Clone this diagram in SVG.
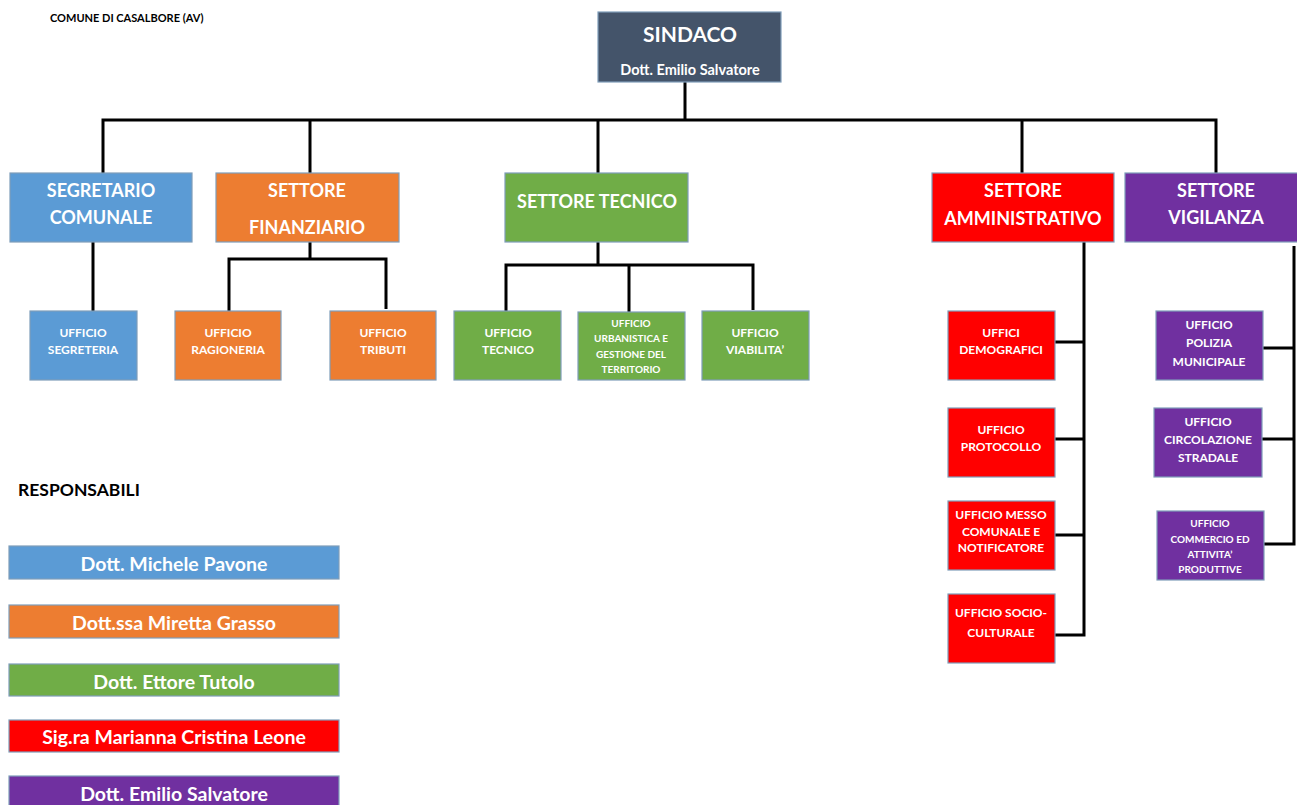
<svg xmlns="http://www.w3.org/2000/svg" width="1297" height="805" viewBox="0 0 1297 805">
<style>
text{font-family:Lato,"Open Sans","Liberation Sans",sans-serif;font-weight:bold;fill:#fff;text-anchor:middle}
.box{stroke:#7F9DB9;stroke-width:1.2}
.blue{fill:#5B9BD5}.orange{fill:#ED7D31}.green{fill:#70AD47}.red{fill:#FF0000}.purple{fill:#7030A0}.slate{fill:#44546A}
.h{font-size:18px}.u{font-size:12px}.s{font-size:10px}.r{font-size:19.5px}
.lines path{fill:none;stroke:#000;stroke-width:3}
</style>
<rect width="1297" height="805" fill="#fff"/>
<text x="50" y="22" style="font-size:11px;fill:#000;text-anchor:start">COMUNE DI CASALBORE (AV)</text>

<g class="lines">
<path d="M685 82V120M103 173V120H1216V173M310 120V173M598 120V173M1022 120V173"/>
<path d="M93 242V311"/>
<path d="M310 242V259M229 311V259H386V309"/>
<path d="M598 242V265M506 311V265H753V310M629 265V312"/>
<path d="M1084 242V635H1055M1055 342H1084M1055 439H1084M1055 535H1084"/>
<path d="M1294 246V544H1264M1263 348H1294M1262 439H1294"/>
</g>

<g id="sindaco"><rect class="box slate" x="598" y="12" width="183" height="70"/><text x="690" y="42" style="font-size:21px">SINDACO</text><text x="690" y="75" style="font-size:14.5px">Dott. Emilio Salvatore</text></g>

<g id="segretario"><rect class="box blue" x="10" y="173" width="182" height="69"/><text class="h" x="101" y="197">SEGRETARIO</text><text class="h" x="101" y="224">COMUNALE</text></g>
<g id="finanziario"><rect class="box orange" x="216" y="173" width="183" height="69"/><text class="h" x="307" y="197">SETTORE</text><text class="h" x="307" y="234">FINANZIARIO</text></g>
<g id="tecnico"><rect class="box green" x="505" y="173" width="183" height="69"/><text class="h" x="597" y="208">SETTORE TECNICO</text></g>
<g id="amministrativo"><rect class="box red" x="932" y="173" width="182" height="69"/><text class="h" x="1023" y="197">SETTORE</text><text class="h" x="1023" y="225">AMMINISTRATIVO</text></g>
<g id="vigilanza"><rect class="box purple" x="1125" y="173" width="180" height="69"/><text class="h" x="1216" y="197">SETTORE</text><text class="h" x="1216" y="224">VIGILANZA</text></g>

<g id="segreteria"><rect class="box blue" x="30" y="311" width="107" height="69"/><text class="u" x="83" y="337">UFFICIO</text><text class="u" x="83" y="354">SEGRETERIA</text></g>
<g id="ragioneria"><rect class="box orange" x="175" y="311" width="106" height="69"/><text class="u" x="228" y="337">UFFICIO</text><text class="u" x="228" y="354">RAGIONERIA</text></g>
<g id="tributi"><rect class="box orange" x="330" y="311" width="106" height="69"/><text class="u" x="383" y="337">UFFICIO</text><text class="u" x="383" y="354">TRIBUTI</text></g>
<g id="uff-tecnico"><rect class="box green" x="454" y="311" width="107" height="69"/><text class="u" x="508" y="337">UFFICIO</text><text class="u" x="508" y="354">TECNICO</text></g>
<g id="urbanistica"><rect class="box green" x="578" y="312" width="107" height="68"/><text class="s" x="631" y="327">UFFICIO</text><text class="s" x="631" y="342">URBANISTICA E</text><text class="s" x="631" y="358">GESTIONE DEL</text><text class="s" x="631" y="373">TERRITORIO</text></g>
<g id="viabilita"><rect class="box green" x="702" y="311" width="107" height="69"/><text class="u" x="755" y="337">UFFICIO</text><text class="u" x="755" y="354">VIABILITA’</text></g>

<g id="demografici"><rect class="box red" x="948" y="311" width="107" height="69"/><text class="u" x="1001" y="337">UFFICI</text><text class="u" x="1001" y="354">DEMOGRAFICI</text></g>
<g id="protocollo"><rect class="box red" x="948" y="408" width="107" height="69"/><text class="u" x="1001" y="434">UFFICIO</text><text class="u" x="1001" y="451">PROTOCOLLO</text></g>
<g id="messo"><rect class="box red" x="948" y="501" width="107" height="69"/><text class="u" x="1001" y="519">UFFICIO MESSO</text><text class="u" x="1001" y="536">COMUNALE E</text><text class="u" x="1001" y="552">NOTIFICATORE</text></g>
<g id="socio"><rect class="box red" x="948" y="594" width="107" height="69"/><text class="u" x="1001" y="617">UFFICIO SOCIO-</text><text class="u" x="1001" y="637">CULTURALE</text></g>

<g id="polizia"><rect class="box purple" x="1156" y="311" width="107" height="69"/><text class="u" x="1209" y="329">UFFICIO</text><text class="u" x="1209" y="347">POLIZIA</text><text class="u" x="1209" y="366">MUNICIPALE</text></g>
<g id="circolazione"><rect class="box purple" x="1154" y="408" width="108" height="69"/><text class="u" x="1208" y="426">UFFICIO</text><text class="u" x="1208" y="444">CIRCOLAZIONE</text><text class="u" x="1208" y="462">STRADALE</text></g>
<g id="commercio"><rect class="box purple" x="1157" y="511" width="107" height="69"/><text class="s" x="1210" y="527">UFFICIO</text><text class="s" x="1210" y="543">COMMERCIO ED</text><text class="s" x="1210" y="558">ATTIVITA’</text><text class="s" x="1210" y="573">PRODUTTIVE</text></g>

<text x="18" y="496" style="font-size:17.5px;fill:#000;text-anchor:start">RESPONSABILI</text>
<g id="resp-1"><rect class="box blue" x="9" y="546" width="330" height="33"/><text class="r" x="174" y="571">Dott. Michele Pavone</text></g>
<g id="resp-2"><rect class="box orange" x="9" y="605" width="330" height="33"/><text class="r" x="174" y="630">Dott.ssa Miretta Grasso</text></g>
<g id="resp-3"><rect class="box green" x="9" y="664" width="330" height="32"/><text class="r" x="174" y="689">Dott. Ettore Tutolo</text></g>
<g id="resp-4"><rect class="box red" x="9" y="720" width="330" height="32"/><text class="r" x="174" y="744">Sig.ra Marianna Cristina Leone</text></g>
<g id="resp-5"><rect class="box purple" x="9" y="776" width="330" height="35"/><text class="r" x="174" y="801">Dott. Emilio Salvatore</text></g>
</svg>
